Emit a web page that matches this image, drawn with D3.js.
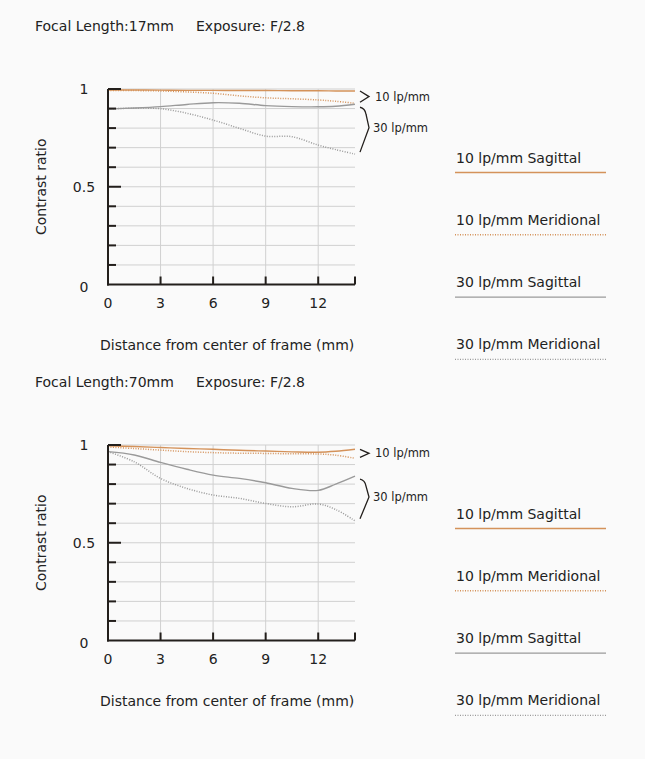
<!DOCTYPE html>
<html>
<head>
<meta charset="utf-8">
<script src="https://cdn.jsdelivr.net/npm/d3@7"></script>
<style>
  body { margin: 0; background: #fafafa; }
  text { font-family: "DejaVu Sans", sans-serif; fill: #222; }
</style>
</head>
<body>
<div id="chart"></div>
<script>

/* Data */
var distances = [0, 1.5, 3, 4.5, 6, 7.5, 9, 10.5, 12, 13, 14.1];

var sag10_17 = [0.995, 0.995, 0.994, 0.993, 0.993, 0.992, 0.992, 0.991, 0.991, 0.99, 0.99];
var mer10_17 = [0.993, 0.992, 0.99, 0.985, 0.978, 0.965, 0.955, 0.95, 0.944, 0.937, 0.927];
var sag30_17 = [0.898, 0.903, 0.91, 0.921, 0.93, 0.927, 0.915, 0.91, 0.909, 0.912, 0.922];
var mer30_17 = [0.898, 0.902, 0.899, 0.876, 0.841, 0.799, 0.759, 0.756, 0.713, 0.69, 0.667];

var sag10_70 = [0.996, 0.992, 0.987, 0.982, 0.978, 0.973, 0.969, 0.965, 0.963, 0.968, 0.978];
var mer10_70 = [0.99, 0.982, 0.974, 0.966, 0.961, 0.958, 0.957, 0.955, 0.954, 0.948, 0.932];
var sag30_70 = [0.966, 0.949, 0.911, 0.876, 0.846, 0.829, 0.807, 0.778, 0.768, 0.80, 0.841];
var mer30_70 = [0.966, 0.914, 0.829, 0.778, 0.744, 0.727, 0.701, 0.684, 0.698, 0.67, 0.612];

var xTicks = [0, 3, 6, 9, 12];
var yLabels = [0, 0.5, 1];
var legendNames = ["10 lp/mm Sagittal", "10 lp/mm Meridional", "30 lp/mm Sagittal", "30 lp/mm Meridional"];

var orange = "#d4925a",
    grey = "#9a9a9a",
    dark = "#231f1c";

var svg = d3.select("#chart").append("svg")
    .attr("width", 645)
    .attr("height", 759);

svg.append("rect").attr("width", 645).attr("height", 759).attr("fill", "#fafafa");

function drawChart(top, focal, series) {

    var g = svg.append("g").attr("transform", "translate(0," + top + ")");

    var x = d3.scaleLinear().domain([0, 14.1]).range([108, 355]);
    var y = d3.scaleLinear().domain([0, 1]).range([284.5, 89]);

    /* Title */
    g.append("text").attr("x", 35).attr("y", 31).attr("font-size", 14).text("Focal Length:" + focal);
    g.append("text").attr("x", 196).attr("y", 31).attr("font-size", 14).text("Exposure: F/2.8");

    /* Grid */
    g.append("g").selectAll("line")
        .data(d3.range(1, 11).map(function(i) { return i / 10; }))
        .enter().append("line")
        .attr("x1", x(0)).attr("x2", x(14.1))
        .attr("y1", function(d) { return y(d); })
        .attr("y2", function(d) { return y(d); })
        .attr("stroke", "#d0d0d0").attr("stroke-width", 1);

    g.append("g").selectAll("line")
        .data(xTicks.slice(1))
        .enter().append("line")
        .attr("x1", function(d) { return x(d); })
        .attr("x2", function(d) { return x(d); })
        .attr("y1", y(1)).attr("y2", y(0))
        .attr("stroke", "#d0d0d0").attr("stroke-width", 1);

    /* Curves */
    var line = d3.line()
        .x(function(d) { return x(d[0]); })
        .y(function(d) { return y(d[1]); })
        .curve(d3.curveCatmullRom);

    series.forEach(function(s) {
        g.append("path")
            .datum(distances.map(function(d, i) { return [d, s.values[i]]; }))
            .attr("d", line)
            .attr("fill", "none")
            .attr("stroke", s.color)
            .attr("stroke-width", s.dotted ? 1.5 : 1.4)
            .attr("stroke-dasharray", s.dotted ? "1,1.5" : null);
    });

    /* Axes */
    g.append("line").attr("x1", x(0)).attr("x2", x(0)).attr("y1", y(1)).attr("y2", y(0) + 1)
        .attr("stroke", dark).attr("stroke-width", 2);
    g.append("line").attr("x1", x(0) - 1).attr("x2", x(14.1)).attr("y1", y(0)).attr("y2", y(0))
        .attr("stroke", dark).attr("stroke-width", 2);

    g.append("g").selectAll("line")
        .data(d3.range(1, 11).map(function(i) { return i / 10; }))
        .enter().append("line")
        .attr("x1", x(0))
        .attr("x2", function(d) { return x(0) + (d === 0.5 || d === 1 ? 13 : 8); })
        .attr("y1", function(d) { return y(d); })
        .attr("y2", function(d) { return y(d); })
        .attr("stroke", dark).attr("stroke-width", 2);

    g.append("g").selectAll("line")
        .data(xTicks.slice(1).concat([14.1]))
        .enter().append("line")
        .attr("x1", function(d) { return x(d); })
        .attr("x2", function(d) { return x(d); })
        .attr("y1", y(0)).attr("y2", y(0) - 8)
        .attr("stroke", dark).attr("stroke-width", 2);

    /* Tick labels */
    g.append("g").selectAll("text")
        .data(yLabels)
        .enter().append("text")
        .attr("x", 84)
        .attr("y", function(d) { return y(d) + (d === 0 ? 7 : 5); })
        .attr("text-anchor", "middle")
        .attr("font-size", 14)
        .text(function(d) { return d; });

    g.append("g").selectAll("text")
        .data(xTicks)
        .enter().append("text")
        .attr("x", function(d) { return x(d); })
        .attr("y", y(0) + 23.5)
        .attr("text-anchor", "middle")
        .attr("font-size", 14)
        .text(function(d) { return d; });

    g.append("text")
        .attr("transform", "translate(46," + y(0.5) + ") rotate(-90)")
        .attr("text-anchor", "middle")
        .attr("font-size", 14)
        .text("Contrast ratio");

    g.append("text")
        .attr("x", 100).attr("y", y(0) + 65.5)
        .attr("font-size", 14)
        .text("Distance from center of frame (mm)");

    /* Brackets at the right end */
    var last = distances.length - 1;
    var e10 = [series[0].values[last], series[1].values[last]],
        e30 = [series[2].values[last], series[3].values[last]];

    var t10 = y(d3.max(e10)), b10 = y(d3.min(e10)) - 1, m10 = (t10 + b10) / 2;
    g.append("path")
        .attr("d", "M360," + t10 + "L369," + m10 + "L360," + b10)
        .attr("fill", "none").attr("stroke", dark).attr("stroke-width", 1.3);
    g.append("text").attr("x", 375).attr("y", m10 + 4).attr("font-size", 11.5).text("10 lp/mm");

    var t30 = y(d3.max(e30)) + 3, b30 = y(d3.min(e30)) - 2, m30 = (t30 + b30) / 2 - 2;
    g.append("path")
        .attr("d", "M360," + t30 + "Q365," + (t30 + 1) + " 366," + (t30 + 7) + "L369," + m30 + "L360," + b30)
        .attr("fill", "none").attr("stroke", dark).attr("stroke-width", 1.3);
    g.append("text").attr("x", 373).attr("y", m30 + 4.5).attr("font-size", 11.5).text("30 lp/mm");

    /* Legend */
    var legend = g.append("g").selectAll("g")
        .data(series)
        .enter().append("g")
        .attr("transform", function(d, i) { return "translate(0," + (172.5 + i * 62.3) + ")"; });

    legend.append("text")
        .attr("x", 456).attr("y", -10)
        .attr("font-size", 14)
        .text(function(d, i) { return legendNames[i]; });

    legend.append("line")
        .attr("x1", 455).attr("x2", 606)
        .attr("stroke", function(d) { return d.color; })
        .attr("stroke-width", 1.4)
        .attr("stroke-dasharray", function(d) { return d.dotted ? "1,1.5" : null; });
}

drawChart(0, "17mm", [
    { values: sag10_17, color: orange, dotted: false },
    { values: mer10_17, color: orange, dotted: true },
    { values: sag30_17, color: grey, dotted: false },
    { values: mer30_17, color: grey, dotted: true }
]);

drawChart(356, "70mm", [
    { values: sag10_70, color: orange, dotted: false },
    { values: mer10_70, color: orange, dotted: true },
    { values: sag30_70, color: grey, dotted: false },
    { values: mer30_70, color: grey, dotted: true }
]);

</script>
</body>
</html>
